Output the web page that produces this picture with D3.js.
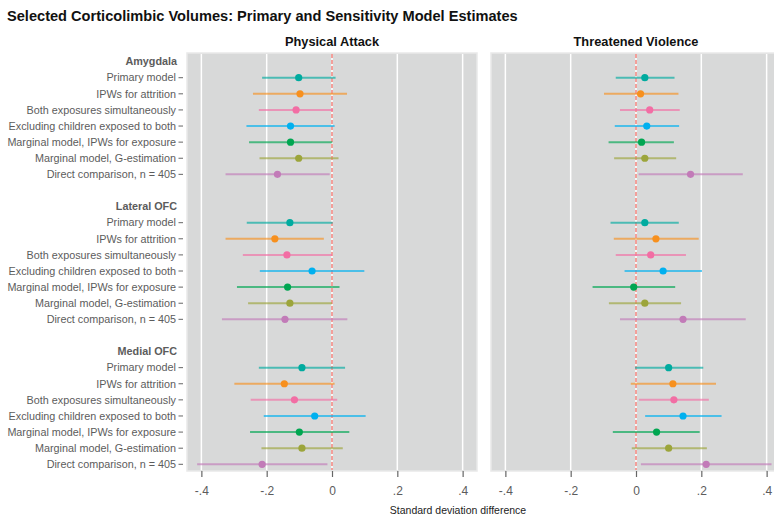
<!DOCTYPE html>
<html lang="en">
<head>
<meta charset="UTF-8">
<title>corticolimbic volumes</title>
<style>
    body { margin: 0; background: #fff; }
    svg { display: block; font-family: "Liberation Sans", Arial, sans-serif; }
    .lbl { font-size: 10.8px; fill: #5c5c5c; }
    .hdr { font-size: 10.8px; fill: #5c5c5c; font-weight: bold; }
</style>
</head>
<body>
<script src="https://d3js.org/d3.v7.min.js"></script>
<svg id="svg"></svg>
<script>
    var regions = ["Amygdala", "Lateral OFC", "Medial OFC"];
    var models = ["Primary model", "IPWs for attrition", "Both exposures simultaneously",
        "Excluding children exposed to both", "Marginal model, IPWs for exposure",
        "Marginal model, G-estimation", "Direct comparison, n = 405"];
    var colors = ["#00ab9f", "#f7901e", "#f26ea4", "#00b0ef", "#00a651", "#9ca53b", "#c27bb8"];
    var panels = ["Physical Attack", "Threatened Violence"];
    var ticks = [-0.4, -0.2, 0, 0.2, 0.4];

    // Physical attack: estimate, lower, upper per region (rows follow models)
    var paEst = [[-0.102, -0.098, -0.110, -0.127, -0.127, -0.102, -0.167],
                 [-0.129, -0.175, -0.138, -0.061, -0.136, -0.129, -0.144],
                 [-0.092, -0.146, -0.115, -0.053, -0.100, -0.092, -0.214]];
    var paLo = [[-0.214, -0.242, -0.224, -0.262, -0.254, -0.222, -0.326],
                [-0.261, -0.326, -0.273, -0.221, -0.291, -0.257, -0.337],
                [-0.224, -0.299, -0.249, -0.209, -0.251, -0.216, -0.413]];
    var paHi = [[0.011, 0.046, 0.003, 0.008, 0.001, 0.020, -0.007],
                [0.002, -0.025, 0.000, 0.099, 0.023, 0.000, 0.047],
                [0.040, 0.008, 0.016, 0.103, 0.053, 0.033, -0.014]];
    // Threatened violence
    var tvEst = [[0.027, 0.014, 0.042, 0.033, 0.017, 0.027, 0.167],
                 [0.027, 0.061, 0.045, 0.083, -0.007, 0.027, 0.144],
                 [0.100, 0.113, 0.116, 0.144, 0.063, 0.100, 0.215]];
    var tvLo = [[-0.062, -0.098, -0.049, -0.065, -0.084, -0.067, 0.008],
                [-0.078, -0.068, -0.062, -0.035, -0.133, -0.083, -0.049],
                [-0.003, -0.016, 0.009, 0.028, -0.071, -0.013, 0.015]];
    var tvHi = [[0.118, 0.130, 0.134, 0.132, 0.116, 0.123, 0.327],
                [0.131, 0.192, 0.153, 0.202, 0.120, 0.138, 0.336],
                [0.206, 0.245, 0.223, 0.262, 0.195, 0.217, 0.415]];

    var W = 774, H = 517;
    var svg = d3.select("#svg").attr("width", W).attr("height", H);

    // row slots: header, 7 models, blank spacer between regions
    var slots = [];
    regions.forEach(function (r, ri) {
        slots.push("h" + ri);
        models.forEach(function (m, mi) { slots.push(ri + "|" + mi); });
        if (ri < regions.length - 1) slots.push("b" + ri);
    });
    var y = d3.scalePoint().domain(slots).range([61.6, 464.3]);

    var panelTop = 53, panelBot = 471, panelW = 290;
    var panelX = [187, 491];

    svg.append("text")
        .attr("x", 7).attr("y", 21)
        .style("font-size", "14.6px").style("font-weight", "bold").style("fill", "#111")
        .text("Selected Corticolimbic Volumes: Primary and Sensitivity Model Estimates");

    // y labels
    var lab = svg.append("g");
    regions.forEach(function (r, ri) {
        lab.append("text").attr("class", "hdr")
            .attr("x", 177).attr("y", y("h" + ri)).attr("dy", "0.35em")
            .attr("text-anchor", "end").text(r);
        models.forEach(function (m, mi) {
            var yy = y(ri + "|" + mi);
            lab.append("text").attr("class", "lbl")
                .attr("x", 176).attr("y", yy).attr("dy", "0.35em")
                .attr("text-anchor", "end").text(m);
            lab.append("line")
                .attr("x1", 178.5).attr("x2", 183).attr("y1", yy).attr("y2", yy)
                .attr("stroke", "#666").attr("stroke-width", 1);
        });
    });

    var sets = [[paEst, paLo, paHi], [tvEst, tvLo, tvHi]];

    panels.forEach(function (name, pi) {
        var x = d3.scaleLinear().domain([-0.444, 0.444]).range([0, panelW]);
        var g = svg.append("g").attr("transform", "translate(" + panelX[pi] + ",0)");

        g.append("rect")
            .attr("x", 0).attr("y", panelTop)
            .attr("width", panelW).attr("height", panelBot - panelTop)
            .attr("fill", "#d8d9d9").attr("stroke", "#e9e9e9").attr("stroke-width", 1.5);

        g.selectAll(".grid").data(ticks).enter().append("line")
            .attr("x1", d => x(d)).attr("x2", d => x(d))
            .attr("y1", panelTop + 1).attr("y2", panelBot - 1)
            .attr("stroke", "#fff").attr("stroke-width", 1.5);

        g.append("line")
            .attr("x1", x(0)).attr("x2", x(0))
            .attr("y1", panelTop + 1).attr("y2", panelBot - 1)
            .attr("stroke", "#f2837c").attr("stroke-width", 1.5)
            .attr("stroke-dasharray", "4,2");

        g.append("text")
            .attr("x", panelW / 2).attr("y", 46)
            .attr("text-anchor", "middle")
            .style("font-size", "12.8px").style("font-weight", "bold").style("fill", "#111")
            .text(name);

        // x axis
        var ax = g.append("g").attr("transform", "translate(0," + panelBot + ")")
            .call(d3.axisBottom(x).tickValues(ticks).tickSize(6).tickPadding(9.5)
                .tickFormat(function (d) {
                    if (d === 0) return "0";
                    return (d < 0 ? "-" : "") + String(Math.abs(d)).replace(/^0/, "");
                }));
        ax.select(".domain").remove();
        ax.selectAll(".tick line").attr("stroke", "#666").attr("stroke-width", 1.2);
        ax.selectAll(".tick text").style("font-size", "12px").style("fill", "#5c5c5c")
            .style("font-family", "'Liberation Sans', Arial, sans-serif");

        var est = sets[pi][0], lo = sets[pi][1], hi = sets[pi][2];
        var rows = [];
        regions.forEach(function (r, ri) {
            models.forEach(function (m, mi) {
                rows.push({ ri: ri, mi: mi, e: est[ri][mi], l: lo[ri][mi], h: hi[ri][mi] });
            });
        });

        g.selectAll(".ci").data(rows).enter().append("line")
            .attr("x1", d => x(d.l)).attr("x2", d => x(d.h))
            .attr("y1", d => y(d.ri + "|" + d.mi)).attr("y2", d => y(d.ri + "|" + d.mi))
            .attr("stroke", d => colors[d.mi]).attr("stroke-width", 2)
            .attr("stroke-opacity", 0.65);

        g.selectAll(".pt").data(rows).enter().append("circle")
            .attr("cx", d => x(d.e)).attr("cy", d => y(d.ri + "|" + d.mi))
            .attr("r", 3.6)
            .attr("fill", d => colors[d.mi]);
    });

    svg.append("text")
        .attr("x", 458).attr("y", 514)
        .attr("text-anchor", "middle")
        .style("font-size", "10.5px").style("fill", "#222")
        .text("Standard deviation difference");
</script>
</body>
</html>
